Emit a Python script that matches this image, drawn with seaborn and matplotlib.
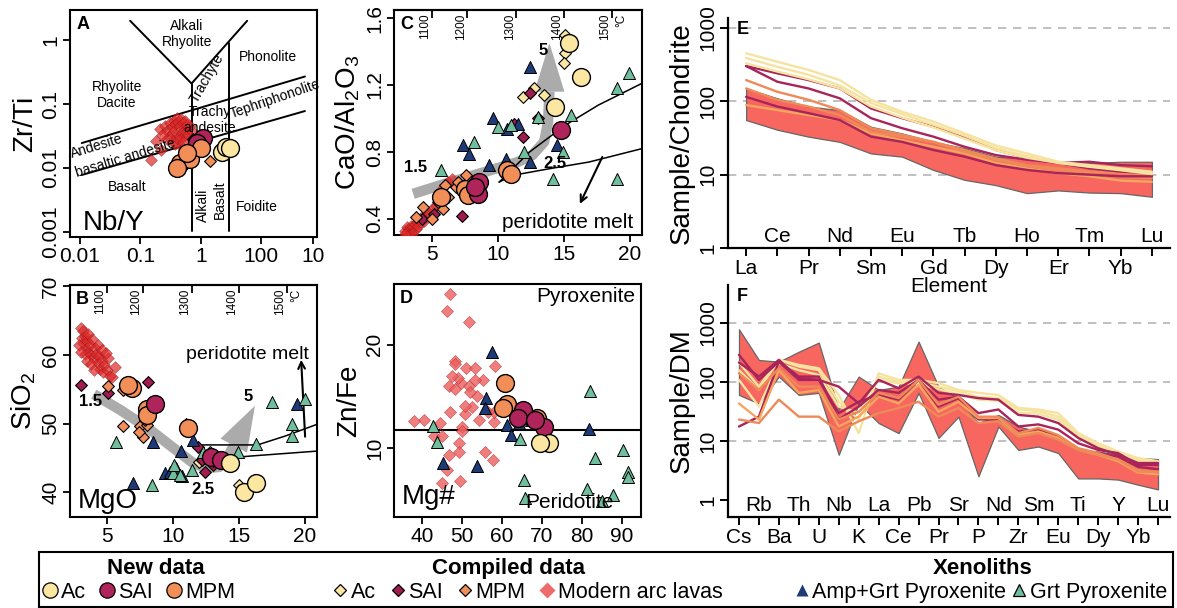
import numpy as np
import seaborn as sns
import matplotlib.pyplot as plt
from matplotlib.lines import Line2D

sns.set_theme(style='ticks', rc={'axes.edgecolor': 'black', 'xtick.color': 'black',
                                 'ytick.color': 'black', 'axes.linewidth': 1.5,
                                 'text.color': 'black', 'axes.labelcolor': 'black'})
plt.rcParams['font.family'] = ['Liberation Sans', 'DejaVu Sans']
plt.rcParams['mathtext.fontset'] = 'custom'
plt.rcParams['mathtext.rm'] = 'Liberation Sans'

# colours
AC = '#FBE7A1'
SAI = '#B0245C'
SAI_C = '#9E1C4E'
MPM = '#F28F58'
ARC = '#DC2A2A'
ARC_D = '#EC5F5F'
NAVY = '#1E3A78'
TEAL = '#6FBF9F'
BAND = '#F86660'
GRAY = '#ABABAB'

# ---------------- panel A : Nb/Y vs Zr/Ti ----------------
a_arc_x = [0.21, 0.25, 0.28, 0.31, 0.33, 0.36, 0.38, 0.40, 0.42, 0.45, 0.47, 0.50, 0.52, 0.55, 0.58,
           0.60, 0.35, 0.40, 0.44, 0.48, 0.52, 0.56, 0.62, 0.30, 0.34, 0.38, 0.43, 0.47, 0.51, 0.27,
           0.23, 0.18, 0.15, 0.22, 0.65, 0.70]
a_arc_y = [0.040, 0.045, 0.038, 0.050, 0.044, 0.055, 0.048, 0.060, 0.052, 0.046, 0.058, 0.050, 0.042,
           0.055, 0.047, 0.040, 0.036, 0.033, 0.030, 0.035, 0.032, 0.036, 0.033, 0.030, 0.026, 0.024,
           0.027, 0.022, 0.025, 0.028, 0.033, 0.026, 0.0135, 0.019, 0.045, 0.038]
a_cac_x, a_cac_y = [2.0], [0.018]
a_csai_x, a_csai_y = [0.75], [0.028]
a_cmpm_x, a_cmpm_y = [1.4, 0.9], [0.013, 0.019]
a_nac_x, a_nac_y = [2.2, 2.65, 3.0], [0.018, 0.0215, 0.0203]
a_nsai_x, a_nsai_y = [1.09, 0.85], [0.029, 0.0244]
a_nmpm_x = [0.45, 0.66, 1.02, 0.40, 0.58]
a_nmpm_y = [0.0118, 0.0137, 0.0203, 0.0099, 0.0169]

# ---------------- panel B : MgO vs SiO2 ----------------
b_arc_x = [3.0, 3.1, 3.2, 3.3, 3.4, 3.5, 3.6, 3.7, 3.8, 3.9, 4.0, 4.1, 4.2, 4.3, 4.4, 4.5, 4.6, 4.7,
           4.8, 5.0, 5.2, 5.4, 3.3, 3.5, 3.8, 4.0, 4.3, 4.6, 3.2, 3.6, 2.9, 3.0, 5.6, 5.1, 4.9]
b_arc_y = [64.0, 62.5, 61.8, 62.8, 61.0, 62.0, 60.5, 61.5, 60.0, 62.3, 59.5, 61.0, 60.2, 58.8, 59.8,
           58.0, 59.2, 57.5, 58.5, 57.8, 57.0, 56.8, 60.2, 59.2, 58.7, 57.8, 61.5, 60.8, 63.5, 63.0,
           61.5, 60.5, 58.2, 59.6, 60.3]
b_csai_x = [3.0, 5.1, 8.1, 11.9, 12.2, 12.4, 13.0]
b_csai_y = [55.6, 54.4, 56.0, 46.6, 44.7, 43.0, 44.0]
b_cmpm_x = [5.1, 6.2, 6.2, 7.5, 7.7, 8.0, 7.9, 11.0, 13.0, 7.4]
b_cmpm_y = [55.5, 54.9, 49.6, 49.6, 48.1, 49.8, 50.5, 49.9, 44.6, 48.8]
b_cac_x = [12.0, 13.3, 15.0, 12.8]
b_cac_y = [44.4, 45.2, 41.0, 45.8]
b_amp_x = [8.5, 7.0, 9.4, 10.6, 10.7, 11.5, 19.4, 10.2, 9.8]
b_amp_y = [47.3, 41.3, 42.8, 46.0, 42.4, 47.6, 52.8, 43.5, 42.9]
b_grt_x = [5.7, 8.4, 10.0, 10.1, 11.4, 12.3, 14.9, 16.3, 17.5, 19.0, 19.0, 20.0, 10.5]
b_grt_y = [47.3, 41.1, 42.8, 44.0, 43.3, 45.8, 45.8, 47.0, 53.1, 49.9, 48.2, 53.6, 42.5]
b_nmpm_x = [6.9, 6.6, 8.0, 8.0, 11.1]
b_nmpm_y = [55.2, 55.6, 52.2, 51.2, 49.3]
b_nsai_x = [8.6, 12.9, 13.6]
b_nsai_y = [52.9, 45.2, 44.7]
b_nac_x = [14.3, 15.4, 16.3]
b_nac_y = [44.2, 40.0, 41.3]
b_arrow_x = [4.0, 6.0, 8.0, 10.0, 11.5, 12.5, 13.5, 14.1, 14.6]
b_arrow_y = [54.3, 52.0, 49.5, 46.5, 44.3, 43.5, 43.7, 45.0, 46.8]
b_arrow_tip = (16.2, 52.6)
b_melt_up_x, b_melt_up_y = [12.1, 16.4, 18.5, 20.9], [46.9, 46.9, 48.2, 49.9]
b_melt_lo_x, b_melt_lo_y = [13.5, 16.0, 20.9], [44.9, 45.3, 46.0]

# ---------------- panel C : MgO vs CaO/Al2O3 ----------------
c_arc_x = [3.0, 3.1, 3.2, 3.3, 3.4, 3.5, 3.6, 3.7, 3.8, 3.9, 4.0, 4.1, 4.2, 4.3, 4.4, 4.5, 4.7, 4.9,
           5.0, 5.3, 3.2, 3.5, 3.0, 5.5, 5.8, 6.2, 6.5, 6.0]
c_arc_y = [0.33, 0.35, 0.32, 0.34, 0.36, 0.33, 0.35, 0.37, 0.34, 0.38, 0.36, 0.40, 0.38, 0.41, 0.39,
           0.42, 0.44, 0.43, 0.46, 0.48, 0.30, 0.31, 0.31, 0.55, 0.58, 0.62, 0.64, 0.60]
c_cac_x = [15.1, 15.1, 15.0, 11.9, 12.7, 13.5]
c_cac_y = [1.50, 1.39, 1.33, 1.13, 1.18, 1.14]
c_csai_x = [12.4, 11.9, 11.2, 13.0, 7.3, 5.2, 4.3]
c_csai_y = [1.15, 0.89, 0.97, 1.00, 0.42, 0.43, 0.40]
c_cmpm_x = [5.85, 6.2, 6.85, 7.6, 8.3, 5.5, 6.0, 10.7, 4.35, 3.85, 5.0, 7.0, 7.4]
c_cmpm_y = [0.46, 0.53, 0.59, 0.66, 0.63, 0.50, 0.60, 0.70, 0.47, 0.41, 0.40, 0.62, 0.56]
c_amp_x = [12.4, 9.6, 10.7, 7.4, 7.8, 9.3, 10.6, 12.4, 14.5, 11.5]
c_amp_y = [1.31, 1.00, 0.94, 0.84, 0.79, 0.72, 0.76, 0.74, 0.84, 0.97]
c_grt_x = [5.7, 8.2, 10.0, 12.0, 13.0, 15.5, 14.9, 14.2, 19.0, 19.9, 19.0, 11.0]
c_grt_y = [0.69, 0.86, 0.95, 0.80, 1.01, 1.02, 0.80, 0.64, 1.18, 1.27, 0.64, 0.96]
c_nac_x, c_nac_y = [15.4, 16.3, 14.3], [1.45, 1.25, 1.07]
c_nsai_x, c_nsai_y = [14.75, 8.6, 8.5, 8.3], [0.93, 0.62, 0.55, 0.59]
c_nmpm_x = [5.7, 7.5, 7.75, 10.7, 11.0]
c_nmpm_y = [0.53, 0.58, 0.54, 0.69, 0.67]
c_arrow_x = [3.6, 6.0, 9.0, 11.5, 12.6, 13.5, 13.8, 13.9]
c_arrow_y = [0.55, 0.61, 0.68, 0.74, 0.78, 0.86, 0.98, 1.16]
c_arrow_tip = (13.9, 1.45)
c_melt_up_x, c_melt_up_y = [10.1, 12.4, 15.1, 17.6, 20.9], [0.62, 0.80, 0.96, 1.08, 1.21]
c_melt_lo_x, c_melt_lo_y = [10.1, 11.1, 13.9, 16.9, 20.9], [0.62, 0.66, 0.70, 0.74, 0.82]

# ---------------- panel D : Mg# vs Zn/Fe ----------------
d_arc_x = [47.0, 46.2, 51.7, 48.2, 48.2, 51.1, 53.2, 58.2, 55.2, 46.7, 48.3, 49.8, 51.7, 53.3, 53.75,
           52.5, 50.8, 47.1, 40.6, 37.9, 44.6, 42.9, 45.0, 50.0, 49.2, 49.2, 46.7, 55.75, 57.8, 46.25,
           45.0, 49.6, 58.1, 58.1, 56.4, 54.3, 50.0, 50.8, 49.0, 52.0, 47.5]
d_arc_y = [24.95, 23.3, 22.2, 18.4, 18.1, 17.8, 17.8, 17.9, 16.6, 16.0, 15.7, 16.3, 16.0, 16.6, 15.0,
           14.0, 13.3, 13.5, 12.7, 12.6, 12.4, 11.2, 11.2, 12.0, 10.5, 9.6, 9.3, 9.6, 8.8, 7.9, 6.6,
           6.8, 12.5, 13.5, 13.5, 12.7, 11.6, 14.1, 16.8, 15.4, 17.0]
d_amp_x = [57.4, 56.0, 55.75, 61.3, 64.3, 67.2, 62.2, 81.8, 45.3, 53.8]
d_amp_y = [19.35, 14.8, 13.9, 12.2, 12.4, 12.7, 11.3, 11.8, 8.5, 8.2]
d_grt_x = [42.8, 43.7, 64.6, 65.4, 65.8, 82.0, 83.25, 90.3, 91.6, 91.6, 81.3, 87.8, 85.0]
d_grt_y = [12.1, 10.6, 10.9, 6.9, 5.1, 15.5, 9.0, 9.8, 7.7, 7.2, 6.0, 5.4, 4.9]
d_nmpm_x, d_nmpm_y = [60.75, 61.3, 60.25, 68.7], [16.3, 14.3, 13.9, 12.9]
d_nsai_x, d_nsai_y = [65.2, 64.1, 70.4, 68.3], [13.7, 12.9, 12.0, 12.7]
d_nac_x, d_nac_y = [71.8, 69.5], [10.45, 10.45]
d_limit = 11.7

# ---------------- panel E : REE / chondrite ----------------
REE = ['La', 'Ce', 'Pr', 'Nd', 'Sm', 'Eu', 'Gd', 'Tb', 'Dy', 'Ho', 'Er', 'Tm', 'Yb', 'Lu']
e_band_lo = [55.6, 41, 33, 28, 19.5, 17.6, 11.6, 8.5, 7.2, 5.6, 6.1, 5.7, 5.6, 5.0]
e_band_hi = [150, 110, 85, 76, 45, 36.5, 28, 23, 17.6, 16.6, 15, 14.5, 15, 15]
e_ac1 = [452, 347, 268, 195, 105, 72, 53, 36.5, 25, 19.5, 15, 13.5, 12.2, 11]
e_ac2 = [390, 296, 230, 165, 95, 67, 48, 34, 23, 18, 14.5, 13, 11.8, 10.5]
e_ac3 = [330, 255, 200, 150, 85, 60, 44, 31, 21.5, 17, 14.5, 12.8, 11.5, 10.2]
e_sai1 = [303, 185, 150, 110, 59, 43, 33, 24, 18.5, 16, 14.5, 12.2, 11, 10.5]
e_sai2 = [303, 241, 195, 150, 80, 59, 45, 33, 21.7, 17, 14.5, 15, 13.5, 13]
e_sai3 = [115, 85, 69, 55.6, 33, 28, 21.7, 17.6, 13.5, 11.6, 10.5, 10, 9.5, 9.5]
e_mpm1 = [195, 135, 105, 76, 43, 35, 28, 21.7, 16.6, 13.5, 12.2, 11, 10.5, 10]
e_mpm2 = [150, 105, 85, 65, 38.5, 33, 28, 20.5, 16, 13, 11.6, 10.5, 9.2, 9]
e_mpm3 = [89, 76, 65, 55.6, 36.5, 29.5, 24, 19.5, 14.5, 12.2, 10.5, 9.5, 8.3, 8]

# ---------------- panel F : trace elements / DM ----------------
TRACE = ['Cs', 'Rb', 'Ba', 'Th', 'U', 'Nb', 'K', 'La', 'Ce', 'Pb', 'Pr', 'Sr', 'P', 'Nd', 'Zr',
         'Sm', 'Eu', 'Ti', 'Dy', 'Y', 'Yb', 'Lu']
f_band_hi = [780, 235, 220, 325, 464, 34, 123, 73, 83, 482, 83, 53, 20, 27.5, 17.5, 14.4, 11.8,
             7.0, 6.6, 5.8, 5.1, 4.9]
f_band_lo = [60, 43, 123, 60, 65, 5.8, 43, 20, 13.5, 65, 11.2, 25.7, 2.5, 17.5, 7.0, 8.0, 6.2,
             2.3, 2.3, 2.2, 1.8, 1.5]
f_ac1 = [213, 83, 236, 194, 170, 60, 13.5, 140, 108, 108, 95, 73, 65, 60, 36, 34, 29.5, 13.5, 9.1, 6.6, 5.1, 4.5]
f_ac2 = [158, 73, 236, 182, 158, 46, 23, 123, 100, 100, 83, 69, 56, 53, 34, 32, 25.7, 12.5, 8.5, 6.2, 4.8, 4.2]
f_ac3 = [108, 38, 207, 158, 131, 38, 30, 108, 95, 92, 75, 62, 50, 48, 30, 29, 23, 11.5, 8, 5.8, 4.6, 4.0]
f_sai1 = [213, 123, 236, 115, 108, 83, 43, 108, 78, 123, 65, 60, 53, 50, 27.5, 25.7, 20, 11.2, 7.5, 5.8, 4.2, 4.2]
f_sai2 = [17.5, 25.7, 220, 108, 108, 29.5, 46, 60, 50, 108, 50, 56, 29.5, 34, 17.5, 19, 15.5, 9.1, 7.0, 6.2, 3.9, 3.9]
f_sai3 = [288, 108, 220, 123, 123, 23, 38, 73, 65, 108, 38, 53, 23, 23, 14.4, 15.5, 11.8, 7.0, 6.2, 5.4, 3.6, 3.3]
f_mpm1 = [23, 20, 50, 25.7, 25.7, 14.4, 21.5, 29.5, 36, 46, 25.7, 36, 20, 21.5, 11.8, 13.5, 10.5, 7.0, 5.8, 4.8, 3.2, 2.9]
f_mpm2 = [140, 73, 170, 83, 83, 23, 31, 65, 53, 108, 41, 56, 25.7, 25.7, 13.5, 16.6, 12.5, 7.5, 6.2, 4.8, 3.0, 3.0]
f_mpm3 = [43, 23, 158, 65, 73, 17.5, 25.7, 56, 43, 90, 31, 46, 24.4, 24.4, 12.5, 14.4, 11.2, 7.0, 5.8, 4.5, 2.9, 2.7]

# temperature scale on top of B and C
T_POS = [5.0, 7.7, 11.4, 15.0, 18.6]
T_LAB = ['1100', '1200', '1300', '1400', '1500']

STY = {
    'arc': dict(marker='D', s=36, color=ARC, alpha=0.7, edgecolor='#A01010', linewidth=0.4),
    'arcd': dict(marker='D', s=38, color=ARC_D, alpha=0.8, edgecolor='#C03030', linewidth=0.4),
    'cac': dict(marker='D', s=36, color=AC, edgecolor='black', linewidth=0.8),
    'csai': dict(marker='D', s=36, color=SAI_C, edgecolor='black', linewidth=0.8),
    'cmpm': dict(marker='D', s=36, color=MPM, edgecolor='black', linewidth=0.8),
    'amp': dict(marker='^', s=75, color=NAVY, edgecolor='black', linewidth=0.7),
    'grt': dict(marker='^', s=75, color=TEAL, edgecolor='black', linewidth=0.7),
    'nac': dict(marker='o', s=165, color=AC, edgecolor='black', linewidth=1.0),
    'nsai': dict(marker='o', s=165, color=SAI, edgecolor='black', linewidth=1.0),
    'nmpm': dict(marker='o', s=165, color=MPM, edgecolor='black', linewidth=1.0),
}


def dots(ax, x, y, key, z=3):
    sns.scatterplot(x=x, y=y, ax=ax, legend=False, zorder=z, **STY[key])


fig = plt.figure(figsize=(11.77, 6.08), dpi=100)


def px_axes(x0, y0, x1, y1):
    return fig.add_axes([x0 / 1177, 1 - y1 / 608, (x1 - x0) / 1177, (y1 - y0) / 608])


axA = px_axes(70, 10, 317, 237)
axC = px_axes(394, 10, 642, 235)
axB = px_axes(70, 285, 317, 517)
axD = px_axes(394, 284, 641, 517)
axF = px_axes(728, 285, 1170, 517)
axE = px_axes(728, 18, 1170, 248)
axL = px_axes(39, 552, 1173, 607)
axF.patch.set_alpha(0)
axE.patch.set_alpha(0)


def style_box(ax):
    ax.tick_params(length=5, width=1.3, labelsize=15, pad=2)
    for lab in ax.get_yticklabels():
        lab.set_rotation(90)
        lab.set_va('center')
    ax.set_xlabel('')
    ax.set_ylabel('')


def letter(ax, s):
    ax.text(0.025, 0.975, s, transform=ax.transAxes, ha='left', va='top',
            fontsize=13, fontweight='bold')


def grey_arrow(ax, xs, ys, tip, width_px=30):
    # thick grey trend arrow: shaft along the path, triangular head up to the tip
    ax.plot(xs, ys, color=GRAY, lw=7.5, solid_capstyle='butt', zorder=1)
    t = ax.transData
    base = t.transform((xs[-1], ys[-1]))
    point = t.transform(tip)
    d = point - base
    n = np.array([-d[1], d[0]]) / np.hypot(*d) * width_px / 2
    tri = t.inverted().transform(np.array([base + n, point, base - n]))
    ax.fill(tri[:, 0], tri[:, 1], color=GRAY, lw=0, zorder=1)


def temp_axis(ax):
    sec = ax.secondary_xaxis('top')
    sec.set_xticks(T_POS, labels=[''] * len(T_POS))
    sec.tick_params(direction='in', length=6, width=1.3)
    tr = ax.get_xaxis_transform()
    for p, t in zip(T_POS, T_LAB):
        ax.text(p - 0.05, 0.985, t, transform=tr, rotation=90, ha='right', va='top', fontsize=8.5)
    ax.text(19.75, 0.985, '°C', transform=tr, rotation=90, ha='right', va='top', fontsize=8.5)


# ---- A
ax = axA
dots(ax, a_arc_x, a_arc_y, 'arc')
dots(ax, a_cac_x, a_cac_y, 'cac')
dots(ax, a_csai_x, a_csai_y, 'csai')
dots(ax, a_cmpm_x, a_cmpm_y, 'cmpm')
dots(ax, a_nsai_x, a_nsai_y, 'nsai', 4)
dots(ax, a_nmpm_x, a_nmpm_y, 'nmpm', 4)
dots(ax, a_nac_x, a_nac_y, 'nac', 4)
ax.set_xscale('log')
ax.set_yscale('log')
ax.set_xlim(10 ** -2.165, 10 ** 1.92)
ax.set_ylim(10 ** -3.08, 10 ** 0.47)
ax.minorticks_off()
ax.set_xticks([0.01, 0.1, 1, 10, 70.8], ['0.01', '0.1', '1', '100', '10'])
ax.set_yticks([0.001, 0.01, 0.1, 1], ['0.001', '0.01', '0.1', '1'])
# classification boundaries (Pearce 1996)
ax.plot([0.0107, 52.5], [0.0245, 0.269], color='black', lw=1.4, zorder=2)
ax.plot([0.0107, 52.5], [0.00776, 0.0776], color='black', lw=1.4, zorder=2)
ax.plot([0.0676, 0.70, 5.82], [2.0, 0.209, 2.0], color='black', lw=1.4, zorder=2)
ax.plot([0.70, 0.70], [0.209, 0.00102], color='black', lw=1.4, zorder=2)
ax.plot([2.88, 2.88], [0.91, 0.00102], color='black', lw=1.4, zorder=2)
tA = dict(transform=ax.transAxes, ha='center', va='center', fontsize=10)
ax.text(0.474, 0.894, 'Alkali\nRhyolite', **tA)
ax.text(0.80, 0.793, 'Phonolite', **tA)
ax.text(0.19, 0.626, 'Rhyolite\nDacite', **tA)
ax.text(0.555, 0.70, 'Trachyte', rotation=60, **tA)
ax.text(0.565, 0.515, 'Trachy\nandesite', **tA)
ax.text(0.83, 0.61, 'Tephriphonolite', rotation=19, **tA)
ax.text(0.11, 0.40, 'Andesite', rotation=17, **tA)
ax.text(0.225, 0.35, 'basaltic andesite', rotation=17, **tA)
ax.text(0.231, 0.22, 'Basalt', **tA)
ax.text(0.538, 0.141, 'Alkali', rotation=90, **tA)
ax.text(0.607, 0.163, 'Basalt', rotation=90, **tA)
ax.text(0.757, 0.132, 'Foidite', **tA)
ax.text(0.05, 0.005, 'Nb/Y', transform=ax.transAxes, ha='left', va='bottom', fontsize=20)
style_box(ax)
ax.set_ylabel('Zr/Ti', fontsize=20, labelpad=2)
letter(ax, 'A')

# ---- B
ax = axB
ax.set_xlim(2.2, 20.9)
ax.set_ylim(36.4, 70.2)
grey_arrow(ax, b_arrow_x, b_arrow_y, b_arrow_tip)
ax.plot(b_melt_up_x, b_melt_up_y, color='black', lw=1.1, zorder=2)
ax.plot(b_melt_lo_x, b_melt_lo_y, color='black', lw=1.1, zorder=2)
ax.annotate('', xy=(19.7, 59.3), xytext=(20.0, 48.1),
            arrowprops=dict(arrowstyle='->', lw=1.5, color='black', shrinkA=0, shrinkB=0))
dots(ax, b_arc_x, b_arc_y, 'arc')
dots(ax, b_cac_x, b_cac_y, 'cac')
dots(ax, b_csai_x, b_csai_y, 'csai')
dots(ax, b_cmpm_x, b_cmpm_y, 'cmpm')
dots(ax, b_amp_x, b_amp_y, 'amp')
dots(ax, b_grt_x, b_grt_y, 'grt')
dots(ax, b_nmpm_x, b_nmpm_y, 'nmpm', 4)
dots(ax, b_nsai_x, b_nsai_y, 'nsai', 4)
dots(ax, b_nac_x, b_nac_y, 'nac', 4)
ax.set_xlim(2.2, 20.9)
ax.set_ylim(36.4, 70.2)
ax.set_xticks([5, 10, 15, 20])
ax.set_yticks([40, 50, 60, 70])
temp_axis(ax)
tB = dict(transform=ax.transAxes, ha='center', va='center', fontsize=12, fontweight='bold')
ax.text(0.085, 0.50, '1.5', **tB)
ax.text(0.54, 0.12, '2.5', **tB)
ax.text(0.72, 0.52, '5', **tB)
ax.text(0.72, 0.70, 'peridotite melt', transform=ax.transAxes, ha='center', va='center', fontsize=14)
ax.text(0.03, 0.015, 'MgO', transform=ax.transAxes, ha='left', va='bottom', fontsize=20)
style_box(ax)
ax.set_ylabel(r'$\mathregular{SiO_2}$', fontsize=20, labelpad=2)
letter(ax, 'B')

# ---- C
ax = axC
ax.set_xlim(2.15, 20.9)
ax.set_ylim(0.304, 1.648)
grey_arrow(ax, c_arrow_x, c_arrow_y, c_arrow_tip)
ax.plot(c_melt_up_x, c_melt_up_y, color='black', lw=1.1, zorder=2)
ax.plot(c_melt_lo_x, c_melt_lo_y, color='black', lw=1.1, zorder=2)
ax.annotate('', xy=(16.2, 0.49), xytext=(17.9, 0.77),
            arrowprops=dict(arrowstyle='->', lw=1.5, color='black', shrinkA=0, shrinkB=0))
dots(ax, c_arc_x, c_arc_y, 'arc')
dots(ax, c_cac_x, c_cac_y, 'cac')
dots(ax, c_csai_x, c_csai_y, 'csai')
dots(ax, c_cmpm_x, c_cmpm_y, 'cmpm')
dots(ax, c_amp_x, c_amp_y, 'amp')
dots(ax, c_grt_x, c_grt_y, 'grt')
dots(ax, c_nmpm_x, c_nmpm_y, 'nmpm', 4)
dots(ax, c_nsai_x, c_nsai_y, 'nsai', 4)
dots(ax, c_nac_x, c_nac_y, 'nac', 4)
ax.set_xlim(2.15, 20.9)
ax.set_ylim(0.304, 1.648)
ax.set_xticks([5, 10, 15, 20])
ax.set_yticks([0.4, 0.8, 1.2, 1.6])
temp_axis(ax)
tC = dict(transform=ax.transAxes, ha='center', va='center', fontsize=12, fontweight='bold')
ax.text(0.085, 0.30, '1.5', **tC)
ax.text(0.65, 0.32, '2.5', **tC)
ax.text(0.60, 0.82, '5', **tC)
ax.text(0.965, 0.015, 'peridotite melt', transform=ax.transAxes, ha='right', va='bottom', fontsize=15)
style_box(ax)
ax.set_ylabel(r'$\mathregular{CaO/Al_2O_3}$', fontsize=20, labelpad=2)
letter(ax, 'C')

# ---- D
ax = axD
ax.axhline(d_limit, color='black', lw=1.5, zorder=2)
dots(ax, d_arc_x, d_arc_y, 'arcd')
dots(ax, d_amp_x, d_amp_y, 'amp')
dots(ax, d_grt_x, d_grt_y, 'grt')
dots(ax, d_nmpm_x, d_nmpm_y, 'nmpm', 4)
dots(ax, d_nsai_x, d_nsai_y, 'nsai', 4)
dots(ax, d_nac_x, d_nac_y, 'nac', 4)
ax.set_xlim(33, 94.75)
ax.set_ylim(3.3, 25.9)
ax.set_xticks([40, 50, 60, 70, 80, 90])
ax.set_yticks([10, 20])
ax.text(0.975, 0.985, 'Pyroxenite', transform=ax.transAxes, ha='right', va='top', fontsize=15)
ax.text(0.89, 0.02, 'Peridotite', transform=ax.transAxes, ha='right', va='bottom', fontsize=15)
ax.text(0.03, 0.03, 'Mg#', transform=ax.transAxes, ha='left', va='bottom', fontsize=20)
style_box(ax)
ax.set_ylabel('Zn/Fe', fontsize=20, labelpad=2)
letter(ax, 'D')


# ---- E and F spider diagrams
def spider(ax, names, lo, hi, lines):
    idx = list(range(len(names)))
    for v in (10, 100, 1000):
        ax.axhline(v, color='#B5B5B5', lw=1.2, dashes=(5, 4), zorder=0.5)
    ax.fill_between(idx, lo, hi, color=BAND, edgecolor='#666666', linewidth=0.9, zorder=1)
    for vals, col in lines:
        sns.lineplot(x=idx, y=vals, ax=ax, color=col, lw=1.7, zorder=2)
    ax.set_yscale('log')
    ax.minorticks_off()
    sns.despine(ax=ax)
    ax.set_xticks(idx, [n if i % 2 == 0 else '' for i, n in enumerate(names)])
    ax.set_yticks([1, 10, 100, 1000], ['1', '10', '100', '1000'])
    ax.tick_params(length=6, width=1.4, labelsize=15, pad=2)
    for lab in ax.get_yticklabels():
        lab.set_rotation(90)
        lab.set_va('center')
    tr = ax.get_xaxis_transform()
    for i, n in enumerate(names):
        if i % 2:
            ax.text(i, 0.008, n, transform=tr, ha='center', va='bottom', fontsize=15)
    ax.spines['left'].set_linewidth(1.6)
    ax.spines['bottom'].set_linewidth(1.6)


AC_L, SAI_L, MPM_L, MPM_L2 = '#F6E3A0', '#A8245A', '#EE8A58', '#F4A55E'
spider(axE, REE, e_band_lo, e_band_hi,
       [(e_mpm3, MPM_L2), (e_mpm2, MPM_L), (e_mpm1, MPM_L), (e_sai3, SAI_L), (e_sai2, SAI_L),
        (e_sai1, SAI_L), (e_ac3, AC_L), (e_ac2, AC_L), (e_ac1, AC_L)])
axE.set_xlim(-0.58, 13.58)
axE.set_ylim(1, 1370)
axE.set_xlabel('Element', fontsize=15, labelpad=-1)
axE.set_ylabel('Sample/Chondrite', fontsize=20, labelpad=2)
axE.text(0.02, 0.985, 'E', transform=axE.transAxes, ha='left', va='top', fontsize=13, fontweight='bold')

spider(axF, TRACE, f_band_lo, f_band_hi,
       [(f_ac3, AC_L), (f_ac2, AC_L), (f_ac1, AC_L), (f_sai3, SAI_L), (f_sai2, SAI_L), (f_sai1, SAI_L),
        (f_mpm3, MPM_L2), (f_mpm1, MPM_L), (f_mpm2, MPM_L)])
axF.set_xlim(-0.55, 21.6)
axF.set_ylim(0.51, 4400)
axF.set_xlabel('')
axF.set_ylabel('Sample/DM', fontsize=20, labelpad=2)
axF.text(0.02, 0.985, 'F', transform=axF.transAxes, ha='left', va='top', fontsize=13, fontweight='bold')

# ---- legend box
axL.set_xticks([])
axL.set_yticks([])
for sp in axL.spines.values():
    sp.set_linewidth(1.5)
axL.set_xlim(0, 1)
axL.set_ylim(0, 1)
for fx, title in [(0.103, 'New data'), (0.414, 'Compiled data'), (0.832, 'Xenoliths')]:
    axL.text(fx, 0.70, title, ha='center', va='center', fontsize=16, fontweight='bold')


def h(marker, fc, ms, ec='black', alpha=1.0):
    return Line2D([], [], ls='none', marker=marker, markersize=ms, markerfacecolor=fc,
                  markeredgecolor=ec, markeredgewidth=0.9, alpha=alpha)


leg_kw = dict(loc='center left', frameon=False, fontsize=15.5, handletextpad=0.1, handlelength=0.8,
              borderpad=0, borderaxespad=0)
l1 = axL.legend([h('o', AC, 11), h('o', SAI, 11), h('o', MPM, 11)], ['Ac', 'SAI', 'MPM'],
                bbox_to_anchor=(0.002, 0.27), ncol=3, columnspacing=0.6, **leg_kw)
axL.add_artist(l1)
l2 = axL.legend([h('D', AC, 6), h('D', SAI_C, 6), h('D', MPM, 6), h('D', '#EE6B6B', 8, ec='none')],
                ['Ac', 'SAI', 'MPM', 'Modern arc lavas'],
                bbox_to_anchor=(0.258, 0.27), ncol=4, columnspacing=0.6, **leg_kw)
axL.add_artist(l2)
axL.legend([h('^', NAVY, 8, ec='none'), h('^', TEAL, 8)], ['Amp+Grt Pyroxenite', 'Grt Pyroxenite'],
           bbox_to_anchor=(0.665, 0.27), ncol=2, columnspacing=0.2, **leg_kw)

fig.savefig('out.png', dpi=100)
